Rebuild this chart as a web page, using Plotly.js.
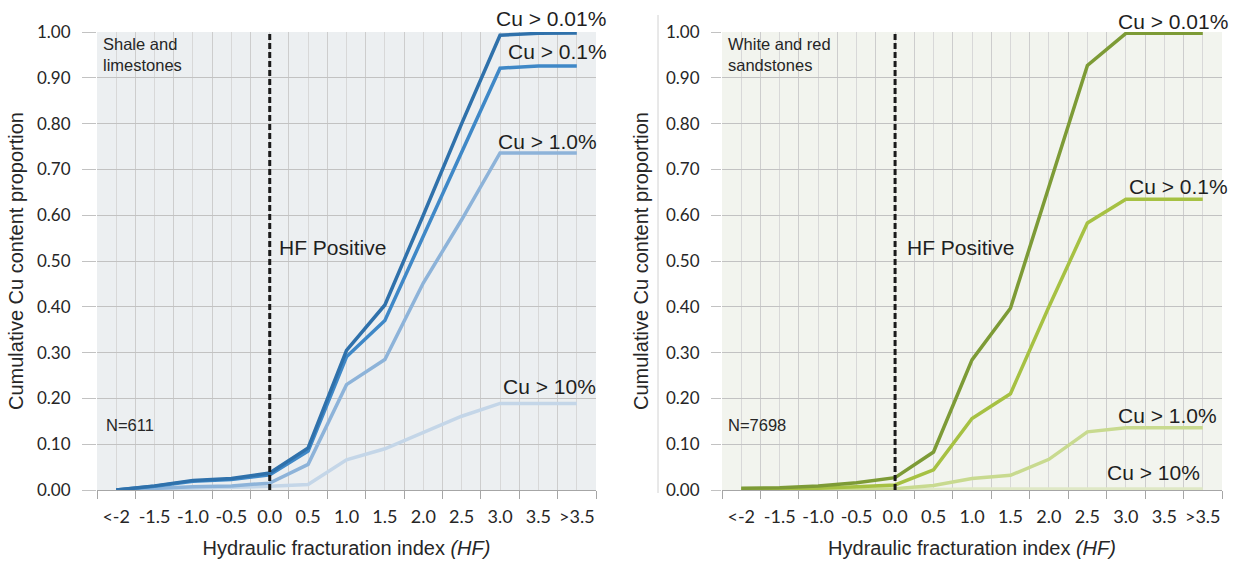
<!DOCTYPE html>
<html>
<head>
<meta charset="utf-8">
<script src="https://cdn.plot.ly/plotly-3.0.1.min.js"></script>
<style>
  html, body { margin: 0; padding: 0; background: #ffffff; }
  #chart { width: 1243px; height: 561px; }
</style>
</head>
<body>
<div id="chart"></div>
<script>
// Hydraulic fracturation index classes (x categories)
const hfClasses = ['<-2', '-1.5', '-1.0', '-0.5', '0.0', '0.5', '1.0', '1.5', '2.0', '2.5', '3.0', '3.5', '>3.5'];

// Shale and limestones (N=611): cumulative Cu content proportion per grade threshold
const shaleCu001 = [0.000, 0.009, 0.021, 0.025, 0.037, 0.092, 0.305, 0.404, 0.600, 0.800, 0.993, 0.997, 0.998];
const shaleCu01  = [0.000, 0.008, 0.019, 0.023, 0.033, 0.085, 0.291, 0.370, 0.554, 0.738, 0.921, 0.926, 0.926];
const shaleCu1   = [0.000, 0.004, 0.007, 0.009, 0.015, 0.056, 0.230, 0.285, 0.452, 0.590, 0.736, 0.736, 0.736];
const shaleCu10  = [0.000, 0.002, 0.004, 0.005, 0.008, 0.012, 0.066, 0.090, 0.125, 0.161, 0.189, 0.189, 0.189];

// White and red sandstones (N=7698)
const sandCu001 = [0.004, 0.005, 0.009, 0.016, 0.027, 0.083, 0.284, 0.397, 0.662, 0.927, 0.997, 0.997, 0.997];
const sandCu01  = [0.002, 0.003, 0.004, 0.007, 0.011, 0.044, 0.156, 0.210, 0.400, 0.583, 0.635, 0.635, 0.635];
const sandCu1   = [0.001, 0.001, 0.001, 0.002, 0.003, 0.010, 0.025, 0.032, 0.067, 0.127, 0.136, 0.136, 0.136];
const sandCu10  = [0.000, 0.000, 0.000, 0.000, 0.000, 0.001, 0.002, 0.002, 0.002, 0.002, 0.002, 0.002, 0.002];

// Labels
const seriesLabels = ['Cu > 0.01%', 'Cu > 0.1%', 'Cu > 1.0%', 'Cu > 10%'];
const panelLabels = ['Shale and<br>limestones', 'White and red<br>sandstones'];
const sampleCounts = ['N=611', 'N=7698'];
const yTitle = 'Cumulative Cu content proportion';
const xTitle = 'Hydraulic fracturation index <i>(HF)</i>';
const thresholdLabel = 'HF Positive';

const W = 1243, H = 561;
const idx = hfClasses.map((c, i) => i);
const zeroIdx = hfClasses.indexOf('0.0');

const blue = ['#2f71ab', '#3f88c7', '#8db3d9', '#c4d6e8'];
const green = ['#7d9b36', '#a6c143', '#c8da8f', '#dfe8c6'];

function line(y, color, xa, ya, name) {
  return {
    x: idx, y: y, type: 'scatter', mode: 'lines', name: name,
    xaxis: xa, yaxis: ya, hoverinfo: 'skip',
    line: { color: color, width: 3.5 }
  };
}

const data = [
  line(shaleCu10, blue[3], 'x', 'y', seriesLabels[3]),
  line(shaleCu1, blue[2], 'x', 'y', seriesLabels[2]),
  line(shaleCu01, blue[1], 'x', 'y', seriesLabels[1]),
  line(shaleCu001, blue[0], 'x', 'y', seriesLabels[0]),
  line(sandCu10, green[3], 'x2', 'y2', seriesLabels[3]),
  line(sandCu1, green[2], 'x2', 'y2', seriesLabels[2]),
  line(sandCu01, green[1], 'x2', 'y2', seriesLabels[1]),
  line(sandCu001, green[0], 'x2', 'y2', seriesLabels[0])
];

const yTickFont = { family: 'Lato, "Open Sans", sans-serif', size: 17, color: '#262626' };
const xTickFont = { family: 'Lato, "Open Sans", sans-serif', size: 18, color: '#262626' };
const titleFont = { family: '"Liberation Sans", Arial, sans-serif', size: 20, color: '#262626' };

function xAxis(domain, anchor) {
  return {
    domain: domain, anchor: anchor,
    range: [-0.5, hfClasses.length - 0.5],
    tickmode: 'array', tickvals: idx, ticktext: hfClasses,
    ticks: '', showgrid: true, gridcolor: '#d8d8d8', gridwidth: 1,
    minor: { tick0: -0.5, dtick: 1, ticks: 'outside', ticklen: 8, tickcolor: '#a6a6a6',
             showgrid: true, gridcolor: '#cdcdcd', gridwidth: 1 },
    showline: true, linecolor: '#a6a6a6', linewidth: 1,
    zeroline: false, fixedrange: true,
    tickfont: xTickFont, ticklabelstandoff: 10,
    title: { text: xTitle, font: titleFont, standoff: 15 }
  };
}

function yAxis(domain, anchor, ticklen, standoff) {
  return {
    domain: domain, anchor: anchor,
    range: [0, 1], dtick: 0.1, tick0: 0, tickformat: '.2f',
    showgrid: true, gridcolor: '#c2c2c2', gridwidth: 1,
    ticks: 'outside', ticklen: ticklen, tickcolor: '#c2c2c2',
    zeroline: false, showline: false, fixedrange: true,
    tickfont: yTickFont, ticklabelstandoff: 8,
    title: { text: yTitle, font: titleFont, standoff: standoff }
  };
}

const yDom = [(H - 490) / H, (H - 32) / H];

function ann(text, px, py, extra) {
  return Object.assign({
    text: text, xref: 'paper', yref: 'paper',
    x: px / W, y: 1 - py / H, showarrow: false,
    xanchor: 'center', yanchor: 'middle', borderpad: 0,
    font: { family: '"Liberation Sans", Arial, sans-serif', size: 21, color: '#1f1f1f' }
  }, extra || {});
}

const smallFont = { family: '"Liberation Sans", Arial, sans-serif', size: 16.5, color: '#262626' };

const annotations = [
  // shale and limestones panel
  ann(seriesLabels[0], 551, 19),
  ann(seriesLabels[1], 557, 52),
  ann(seriesLabels[2], 547, 141),
  ann(seriesLabels[3], 549, 386),
  ann(thresholdLabel, 332, 247),
  ann(panelLabels[0], 102, 34, { xanchor: 'left', yanchor: 'top', align: 'left', font: smallFont }),
  ann(sampleCounts[0], 105, 425, { xanchor: 'left', font: smallFont }),
  // white and red sandstones panel
  ann(seriesLabels[0], 1173, 21),
  ann(seriesLabels[1], 1178, 186),
  ann(seriesLabels[2], 1167, 415),
  ann(seriesLabels[3], 1153, 472),
  ann(thresholdLabel, 960, 247),
  ann(panelLabels[1], 727, 34, { xanchor: 'left', yanchor: 'top', align: 'left', font: smallFont }),
  ann(sampleCounts[1], 727, 425, { xanchor: 'left', font: smallFont })
];

const dashed = { color: '#1a1a1a', width: 3, dash: '6px,3px' };

const shapes = [
  // panel backgrounds under the grid
  { type: 'rect', xref: 'x domain', yref: 'y domain', x0: 0, x1: 1, y0: 0, y1: 1,
    fillcolor: '#eceff1', line: { width: 0 }, layer: 'below' },
  { type: 'rect', xref: 'x2 domain', yref: 'y2 domain', x0: 0, x1: 1, y0: 0, y1: 1,
    fillcolor: '#f2f4ee', line: { width: 0 }, layer: 'below' },
  // HF = 0 threshold
  { type: 'line', xref: 'x', yref: 'y domain', x0: zeroIdx, x1: zeroIdx, y0: 0, y1: 1, line: dashed, layer: 'above' },
  { type: 'line', xref: 'x2', yref: 'y2 domain', x0: zeroIdx, x1: zeroIdx, y0: 0, y1: 1, line: dashed, layer: 'above' },
  // thin frame edge at the left of the second panel
  { type: 'line', xref: 'paper', yref: 'paper', x0: 658 / W, x1: 658 / W, y0: 1 - 493 / H, y1: 1 - 15 / H,
    line: { color: '#d2d2d2', width: 1 } }
];

const layout = {
  width: W, height: H,
  margin: { l: 0, r: 0, t: 0, b: 0, autoexpand: false },
  paper_bgcolor: '#ffffff',
  showlegend: false,
  xaxis: xAxis([97 / W, 596 / W], 'y'),
  yaxis: yAxis(yDom, 'x', 14, 8),
  xaxis2: xAxis([722 / W, 1222 / W], 'y2'),
  yaxis2: yAxis(yDom, 'x2', 10, 12),
  annotations: annotations,
  shapes: shapes
};

Plotly.newPlot('chart', data, layout, { staticPlot: true, displayModeBar: false });
</script>
</body>
</html>
